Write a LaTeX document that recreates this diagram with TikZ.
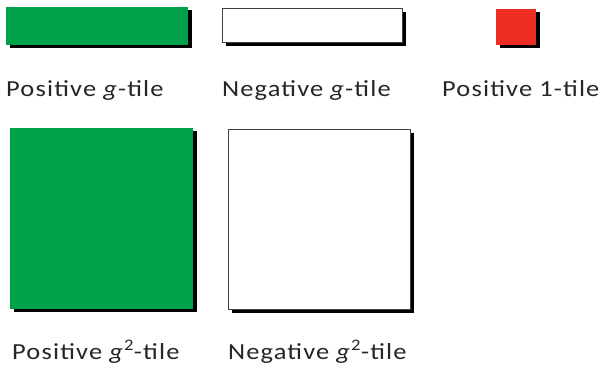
\documentclass[tikz,border=0pt]{standalone}
\usepackage{fontspec}
\setmainfont{Carlito}
\newfontfamily\capfont[FakeStretch=1.15, LetterSpace=5]{Carlito}
\usetikzlibrary{shadows}
\definecolor{tilegreen}{RGB}{0,161,75}
\definecolor{tilered}{RGB}{238,45,36}
\tikzset{
  tile/.style={rectangle, inner sep=0pt, outer sep=0pt,
    drop shadow={shadow xshift=3.5pt, shadow yshift=-3.5pt, fill=black, opacity=1}},
  postile/.style={tile, fill=tilegreen},
  negtile/.style={tile, fill=white, draw=black!75, line width=1pt},
  unittile/.style={tile, fill=tilered},
  caption/.style={anchor=base west, inner sep=0pt, text=black!85,
    font=\capfont\fontsize{23}{27}\selectfont}
}
\begin{document}
\begin{tikzpicture}[x=1pt, y=-1pt]
  \useasboundingbox[fill=white] (0,0) rectangle (606,371);
  % top row: g-tiles and the unit tile
  \node[postile, minimum width=182pt, minimum height=38pt] (gpos) at (97,26) {};
  \node[negtile, minimum width=180pt, minimum height=34pt] (gneg) at (312,26) {};
  \node[unittile, minimum width=40pt, minimum height=36pt] (one) at (516,27) {};
  \node[caption] (gposlbl) at (6,97) {Positive \textit{g}-tile};
  \node[caption] (gneglbl) at (222,97) {Negative \textit{g}-tile};
  \node[caption] (onelbl) at (442,97) {Positive 1-tile};
  % bottom row: g^2-tiles
  \node[postile, minimum width=183pt, minimum height=181pt] (gsqpos) at (101.5,218.5) {};
  \node[negtile, minimum width=182pt, minimum height=180pt] (gsqneg) at (319,220) {};
  \node[caption] (gsqposlbl) at (12,360) {Positive \textit{g}\textsuperscript{2}-tile};
  \node[caption] (gsqneglbl) at (228,360) {Negative \textit{g}\textsuperscript{2}-tile};
\end{tikzpicture}
\end{document}
